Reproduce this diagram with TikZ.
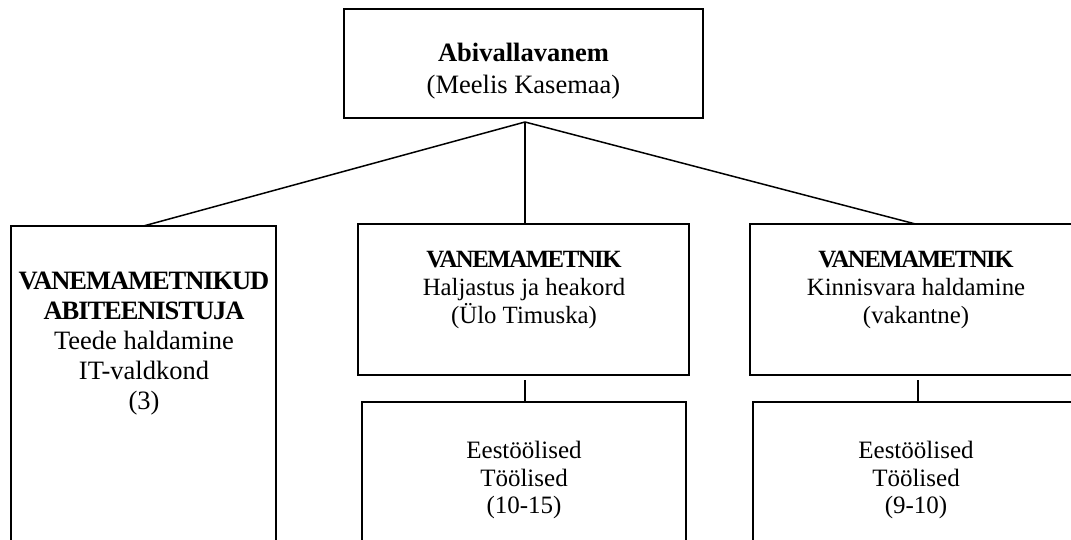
\documentclass[tikz,border=0pt]{standalone}
\usepackage{fontspec}
\setmainfont{Liberation Serif}
\newfontfamily\tightA[LetterSpace=-4]{Liberation Serif}
\newfontfamily\tightB[LetterSpace=-6]{Liberation Serif}
\usetikzlibrary{calc}
\begin{document}
\begin{tikzpicture}[x=1pt,y=-1pt,
  box/.style={draw, line width=2.3pt, anchor=north west, inner sep=0pt, outer sep=0pt},
  link/.style={line width=1.5pt},
  txt/.style={anchor=north, align=center, inner sep=0pt, outer sep=0pt},
  bigfont/.style={font=\fontsize{26.5}{32}\selectfont},
  leftfont/.style={font=\fontsize{26.5}{30}\selectfont},
  midfont/.style={font=\fontsize{24.8}{28.3}\selectfont},
  lowfont/.style={font=\fontsize{25}{27.5}\selectfont},
]
\useasboundingbox (0,0) rectangle (1071,540);
\clip (0,0) rectangle (1071,540);

% boxes
\node[box, minimum width=359pt, minimum height=109pt] (top) at (344,9) {};
\node[box, minimum width=265pt, minimum height=380pt] (left) at (11,226) {};
\node[box, minimum width=331pt, minimum height=151pt] (mid) at (358,224) {};
\node[box, minimum width=331pt, minimum height=151pt] (right) at (750,224) {};
\node[box, minimum width=324pt, minimum height=200pt] (lowmid) at (362,402) {};
\node[box, minimum width=324pt, minimum height=200pt] (lowright) at (753,402) {};

% texts
\node[txt, bigfont] (toptxt) at (523.5,39.6)
  {\strut\textbf{Abivallavanem}\\(Meelis Kasemaa)};
\node[txt, leftfont] (lefttxt) at (144,268)
  {\strut{\tightA\bfseries VANEMAMETNIKUD}\\{\tightA\bfseries ABITEENISTUJA}\\Teede haldamine\\IT-valdkond\\(3)};
\node[txt, midfont] (midtxt) at (524,247.2)
  {\strut{\tightB\bfseries VANEMAMETNIK}\\Haljastus ja heakord\\(Ülo Timuska)};
\node[txt, midfont] (righttxt) at (916,247.2)
  {\strut{\tightB\bfseries VANEMAMETNIK}\\Kinnisvara haldamine\\(vakantne)};
\node[txt, lowfont] (lowmidtxt) at (524,439.7)
  {\strut Eestöölised\\Töölised\\(10-15)};
\node[txt, lowfont] (lowrighttxt) at (916,439.7)
  {\strut Eestöölised\\Töölised\\(9-10)};

% connectors
\coordinate (apex) at (525,122);
\draw[link] (apex) -- (left.north);
\draw[link] (apex) -- (apex |- mid.north);
\draw[link] (apex) -- (right.north);
\coordinate (m1) at (525,380);
\draw[link] (m1) -- (m1 |- lowmid.north);
\coordinate (r1) at (918,380);
\draw[link] (r1) -- (r1 |- lowright.north);
\end{tikzpicture}
\end{document}
